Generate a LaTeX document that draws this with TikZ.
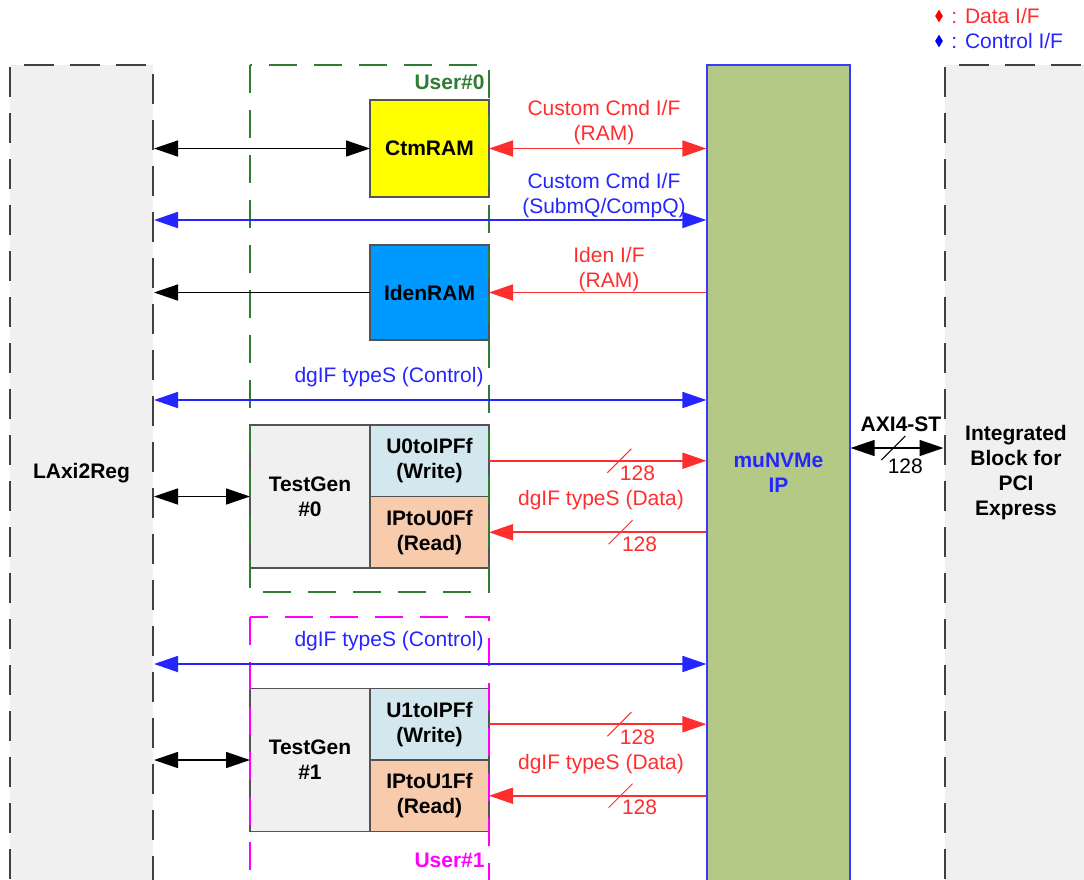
\documentclass[tikz,border=0pt]{standalone}
\usepackage{fontspec}
\setmainfont{Liberation Sans}
\usepackage{tikz}
\usetikzlibrary{arrows.meta, positioning, shapes.geometric}
\definecolor{nvmedark}{HTML}{404040}
\definecolor{nvmegray}{HTML}{F0F0F0}
\definecolor{ipgreen}{HTML}{B5C987}
\definecolor{ipblue}{HTML}{3A3AFF}
\definecolor{ctmyellow}{HTML}{FFFF00}
\definecolor{idenblue}{HTML}{0099FF}
\definecolor{wrblue}{HTML}{D2E8EE}
\definecolor{rdpeach}{HTML}{F8CBAD}
\definecolor{usergreen}{HTML}{2E7D32}
\definecolor{usermagenta}{HTML}{FF00FF}
\definecolor{datared}{HTML}{FF2E2E}
\definecolor{ctlblue}{HTML}{2525FF}
\newcommand{\dgsize}{\fontsize{10.5}{12.5}\selectfont}
\tikzset{
  block/.style={draw=nvmedark, line width=1pt, dash pattern=on 15pt off 8pt,
                fill=nvmegray, minimum width=71.5pt, minimum height=408pt,
                inner sep=0pt, align=center, font=\dgsize\bfseries},
  ipbox/.style={block, solid, draw=ipblue, line width=0.6pt, fill=ipgreen,
                text=ctlblue},
  cell/.style={draw=nvmedark!90, line width=0.75pt, minimum width=59.5pt,
               inner sep=0pt, outer sep=0pt, align=center, font=\dgsize\bfseries},
  tgcell/.style={cell, fill=nvmegray, minimum width=60pt, minimum height=71.5pt},
  wrcell/.style={cell, fill=wrblue, minimum height=35.75pt},
  rdcell/.style={cell, fill=rdpeach, minimum height=35.75pt},
  userbox/.style={line width=0.8pt, dash pattern=on 14pt off 8.5pt},
  sysarr/.style={draw=black, line width=0.75pt},
  datarr/.style={draw=datared, line width=0.9pt},
  ctlarr/.style={draw=ctlblue, line width=0.9pt},
  dataslash/.style={draw=datared, line width=0.5pt},
  datalbl/.style={text=datared, align=center, inner sep=0pt, font=\dgsize},
  ctllbl/.style={text=ctlblue, align=center, inner sep=0pt, font=\dgsize},
  syslbl/.style={text=black, align=center, inner sep=0pt, font=\dgsize},
  legmark/.style={diamond, draw=none, inner sep=0pt, minimum width=4pt,
                  minimum height=6.5pt},
}
\begin{document}
\begin{tikzpicture}[x=0.5pt, y=-0.5pt, >={Triangle[length=12pt,width=8pt]}]
  \useasboundingbox (0,0) rectangle (1084,880);

  % Outer blocks
  \node[block] (lreg) at (81.5,473) {LAxi2Reg};
  \node[ipbox] (ip) at (778.5,473) {muNVMe\\IP};
  \node[block] (pcie) at (1016,473) {Integrated\\Block for\\PCI\\Express};

  % RAMs
  \node[cell, fill=ctmyellow, minimum height=48.5pt] (ctm) at (429.5,148.5) {CtmRAM};
  \node[cell, fill=idenblue, minimum height=47.5pt] (iden) at (429.5,292.5) {IdenRAM};

  % Test generators with FIFOs
  \node[tgcell] (tg0) at (310,496.5) {TestGen\\\#0};
  \node[wrcell, anchor=north west] (u0w) at (tg0.north east) {U0toIPFf\\(Write)};
  \node[rdcell, anchor=north west] (u0r) at (u0w.south west) {IPtoU0Ff\\(Read)};
  \node[tgcell] (tg1) at (310,760) {TestGen\\\#1};
  \node[wrcell, anchor=north west] (u1w) at (tg1.north east) {U1toIPFf\\(Write)};
  \node[rdcell, anchor=north west] (u1r) at (u1w.south west) {IPtoU1Ff\\(Read)};

  % User groups
  \draw[userbox, draw=usergreen] (250,65) rectangle (489,592);
  \node[syslbl, text=usergreen, font=\dgsize\bfseries, anchor=east] (u0lbl) at (485,82) {User\#0};
  \draw[userbox, draw=usermagenta] (250,617) rectangle (489,882);
  \node[syslbl, text=usermagenta, font=\dgsize\bfseries, anchor=east] (u1lbl) at (485,860) {User\#1};

  % Custom command RAM
  \draw[sysarr, <->] (lreg.east |- ctm) -- (ctm.west);
  \draw[datarr, <->] (ctm.east) -- (ip.west |- ctm);
  \node[datalbl] (ctmlbl) at (604,123) {Custom Cmd I/F\\(RAM)};

  % Custom command queues
  \coordinate (sq) at (0,220);
  \draw[ctlarr, <->] (lreg.east |- sq) -- (ip.west |- sq);
  \node[ctllbl] (sqlbl) at (604,196) {Custom Cmd I/F\\(SubmQ/CompQ)};

  % Identify RAM
  \draw[sysarr, ->] (iden.west) -- (lreg.east |- iden);
  \draw[datarr, ->] (ip.west |- iden) -- (iden.east);
  \node[datalbl] (idenlbl) at (609,270) {Iden I/F\\(RAM)};

  % User#0 control and data
  \coordinate (c0) at (0,400);
  \draw[ctlarr, <->] (lreg.east |- c0) -- (ip.west |- c0);
  \node[ctllbl, anchor=east] (c0lbl) at (484,377) {dgIF typeS (Control)};
  \draw[sysarr, <->] (lreg.east |- tg0) -- (tg0.west);
  \draw[datarr, ->] (u0w.east) -- (ip.west |- u0w) coordinate[pos=0.6] (w0s);
  \draw[dataslash] (w0s) ++(-12,12) -- ++(24,-24);
  \path (w0s) ++(18,13) node[datalbl] (w0n) {128};
  \node[datalbl] (d0lbl) at (601,500) {dgIF typeS (Data)};
  \draw[datarr, ->] (ip.west |- u0r) -- (u0r.east) coordinate[pos=0.395] (r0s);
  \draw[dataslash] (r0s) ++(-12,12) -- ++(24,-24);
  \path (r0s) ++(19,12) node[datalbl] (r0n) {128};

  % User#1 control and data
  \coordinate (c1) at (0,664);
  \draw[ctlarr, <->] (lreg.east |- c1) -- (ip.west |- c1);
  \node[ctllbl, anchor=east] (c1lbl) at (484,641) {dgIF typeS (Control)};
  \draw[sysarr, <->] (lreg.east |- tg1) -- (tg1.west);
  \draw[datarr, ->] (u1w.east) -- (ip.west |- u1w) coordinate[pos=0.6] (w1s);
  \draw[dataslash] (w1s) ++(-12,12) -- ++(24,-24);
  \path (w1s) ++(18,13) node[datalbl] (w1n) {128};
  \node[datalbl] (d1lbl) at (601,764) {dgIF typeS (Data)};
  \draw[datarr, ->] (ip.west |- u1r) -- (u1r.east) coordinate[pos=0.395] (r1s);
  \draw[dataslash] (r1s) ++(-12,12) -- ++(24,-24);
  \path (r1s) ++(19,12) node[datalbl] (r1n) {128};

  % AXI4-ST to PCIe block
  \coordinate (ax) at (0,448);
  \draw[sysarr, <->] (ip.east |- ax) -- (pcie.west |- ax) coordinate[pos=0.46] (axs);
  \draw[sysarr, line width=0.5pt] (axs) ++(-12,12) -- ++(24,-24);
  \node[syslbl, font=\dgsize\bfseries] (axlbl) at (901,424) {AXI4-ST};
  \path (axs) ++(12,18) node[syslbl] (axn) {128};

  % Legend
  \node[legmark, fill=red] (dmark) at (939,16) {};
  \node[datalbl, anchor=west] (dleg) at (951,16) {: Data I/F};
  \node[legmark, fill=blue] (cmark) at (939,41) {};
  \node[ctllbl, anchor=west] (cleg) at (951,41) {: Control I/F};
\end{tikzpicture}
\end{document}
